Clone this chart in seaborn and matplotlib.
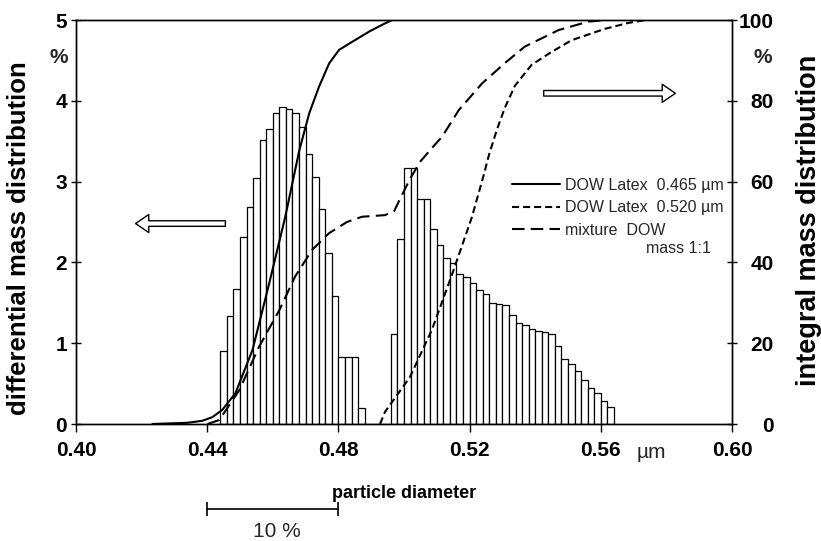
import matplotlib
matplotlib.use("Agg")
import matplotlib.pyplot as plt
import matplotlib.transforms as mtransforms
from matplotlib.lines import Line2D
import pandas as pd
import seaborn as sns

# ---------------- data ----------------
bin_width = 0.002
bin_centers = [0.445, 0.447, 0.449, 0.451, 0.453, 0.455, 0.457, 0.459, 0.461, 0.463,
               0.465, 0.467, 0.469, 0.471, 0.473, 0.475, 0.477, 0.479, 0.481, 0.483,
               0.485, 0.487, 0.489, 0.491, 0.493, 0.495, 0.497, 0.499, 0.501, 0.503,
               0.505, 0.507, 0.509, 0.511, 0.513, 0.515, 0.517, 0.519, 0.521, 0.523,
               0.525, 0.527, 0.529, 0.531, 0.533, 0.535, 0.537, 0.539, 0.541, 0.543,
               0.545, 0.547, 0.549, 0.551, 0.553, 0.555, 0.557, 0.559, 0.561, 0.563]
diff_mass = [0.90, 1.34, 1.67, 2.32, 2.69, 3.04, 3.52, 3.65, 3.85, 3.92,
             3.90, 3.85, 3.68, 3.34, 3.06, 2.66, 2.12, 1.58, 0.83, 0.83,
             0.83, 0.20, 0.00, 0.00, 0.00, 0.00, 1.12, 2.29, 3.17, 3.17,
             2.78, 2.78, 2.41, 2.21, 2.05, 1.99, 1.86, 1.82, 1.74, 1.66,
             1.61, 1.50, 1.49, 1.47, 1.35, 1.25, 1.22, 1.18, 1.15, 1.14,
             1.11, 0.96, 0.80, 0.74, 0.65, 0.55, 0.45, 0.38, 0.29, 0.21]

d465_x = [0.4233, 0.4340, 0.4385, 0.4416, 0.4446, 0.4486, 0.4538, 0.4589, 0.4638,
          0.4681, 0.4711, 0.4741, 0.4772, 0.4802, 0.4842, 0.4893, 0.4933, 0.4964]
d465_y = [0.0, 0.3, 0.8, 1.7, 3.5, 7.6, 18.3, 34.8, 51.3,
          67.8, 76.9, 83.5, 89.3, 92.6, 94.6, 97.1, 98.8, 100.0]

d520_x = [0.4927, 0.4942, 0.5018, 0.5085, 0.5146, 0.5207, 0.5243, 0.5259, 0.5283,
          0.5307, 0.5338, 0.5389, 0.5444, 0.5511, 0.5612, 0.5685, 0.5739]
d520_y = [0.0, 3.0, 11.6, 23.3, 36.9, 51.2, 61.6, 66.6, 72.8,
          78.2, 83.7, 88.9, 91.8, 95.0, 97.8, 99.3, 100.0]

mix_x = [0.4401, 0.4437, 0.4498, 0.4558, 0.4620, 0.4668, 0.4720, 0.4771, 0.4826,
         0.4872, 0.4942, 0.4970, 0.4994, 0.5018, 0.5049, 0.5085, 0.5116, 0.5167,
         0.5238, 0.5307, 0.5368, 0.5471, 0.5562, 0.5617]
mix_y = [0.0, 1.0, 8.4, 19.1, 28.2, 36.5, 43.1, 47.2, 50.0,
         51.3, 51.7, 52.7, 56.7, 60.6, 64.9, 68.3, 71.1, 77.7,
         84.3, 89.3, 93.4, 97.5, 99.6, 100.0]

x_ticks = [0.40, 0.44, 0.48, 0.52, 0.56, 0.60]
x_tick_labels = ["0.40", "0.44", "0.48", "0.52", "0.56", "0.60"]
left_ticks = [0, 1, 2, 3, 4, 5]
right_ticks = [0, 20, 40, 60, 80, 100]
legend_labels = ["DOW Latex  0.465 \u00b5m", "DOW Latex  0.520 \u00b5m", "mixture  DOW"]
legend_note = "mass 1:1"
scale_bar = [0.44, 0.48]
scale_label = "10 %"

# ---------------- style ----------------
sns.set_theme(style="ticks")
plt.rcParams["font.family"] = ["Liberation Sans", "DejaVu Sans"]
plt.rcParams["axes.linewidth"] = 1.0

SHORT = (0, (3.4, 1.9))
LONG = (0, (6.0, 3.0))

fig = plt.figure(figsize=(8.21, 5.41), dpi=100)
ax = fig.add_axes([76 / 821, 117 / 541, 656 / 821, 404 / 541])

edges = [c - bin_width / 2 for c in bin_centers] + [bin_centers[-1] + bin_width / 2]
hist_df = pd.DataFrame({"diameter": bin_centers, "mass": diff_mass})
sns.histplot(data=hist_df, x="diameter", weights="mass", bins=edges, stat="count",
             element="bars", fill=True, color="white", edgecolor="black",
             linewidth=0.9, alpha=1, ax=ax)

ax.set_xlim(0.40, 0.60)
ax.set_ylim(0, 5)
ax.set_xticks(x_ticks)
ax.set_xticklabels(x_tick_labels, fontweight="bold")
ax.set_yticks(left_ticks)
ax.set_yticklabels([str(v) for v in left_ticks], fontweight="bold")
ax.tick_params(axis="x", direction="out", length=6, width=1, pad=6.5, labelsize=15, colors="black")
ax.tick_params(axis="y", direction="inout", length=7, width=1, pad=3, labelsize=15, colors="black")

ax.set_xlabel("particle diameter", fontsize=13, fontweight="bold", color="black")
ax.xaxis.set_label_coords(0.5, -0.150)
ax.set_ylabel("differential mass distribution", fontsize=18.5, fontweight="bold", color="black")
ax.yaxis.set_label_coords(-0.068, 0.46)

# ---------------- integral curves ----------------
ax2 = ax.twinx()
sns.lineplot(x=d465_x, y=d465_y, ax=ax2, color="black", linewidth=1.5, linestyle="-")
sns.lineplot(x=d520_x, y=d520_y, ax=ax2, color="black", linewidth=1.5, linestyle=SHORT)
sns.lineplot(x=mix_x, y=mix_y, ax=ax2, color="black", linewidth=1.5, linestyle=LONG)
ax2.set_ylim(0, 100)
ax2.set_xlim(0.40, 0.60)
ax2.set_yticks(right_ticks)
ax2.set_yticklabels([str(v) for v in right_ticks], fontweight="bold", ha="right")
ax2.tick_params(axis="y", direction="inout", length=7, width=1, pad=26.6, labelsize=15, colors="black")
ax2.set_ylabel("integral mass distribution", fontsize=19.5, fontweight="bold", color="black")
ax2.yaxis.set_label_coords(1.098, 0.505)
for sp in ax2.spines.values():
    sp.set_linewidth(1.0)
    sp.set_color("black")
for sp in ax.spines.values():
    sp.set_color("black")

# percent signs under top tick labels
ax.text(-0.012, 0.908, "%", transform=ax.transAxes, ha="right", va="center",
        fontsize=15, fontweight="bold")
ax.text(1.0610, 0.908, "%", transform=ax.transAxes, ha="right", va="center",
        fontsize=15, fontweight="bold")

# unit on x axis
bx = mtransforms.blended_transform_factory(ax.transData, ax.transAxes)
ax.text(0.5755, -0.0842, "\u00b5m", transform=bx, ha="center", va="baseline", fontsize=15)

# legend
handles = [Line2D([], [], color="black", lw=1.5, linestyle="-"),
           Line2D([], [], color="black", lw=1.5, linestyle=SHORT),
           Line2D([], [], color="black", lw=1.5, linestyle=LONG)]
ax2.legend(handles, legend_labels, loc="upper left", bbox_to_anchor=(0.6646, 0.610),
           frameon=False, fontsize=11.5, handlelength=3.0, handletextpad=0.33,
           labelspacing=0.48, borderpad=0, borderaxespad=0)
ax2.text(0.5739, 0.4356, legend_note, transform=bx, ha="left", va="center", fontsize=11.5)

# hollow arrows
arrow_style = "simple,head_length=0.95,head_width=1.3,tail_width=0.4"
ax.annotate("", xy=(0.41816, 2.481), xytext=(0.44554, 2.481),
            arrowprops=dict(arrowstyle=arrow_style, fc="white", ec="black", lw=1,
                            shrinkA=0, shrinkB=0, mutation_scale=10))
ax.annotate("", xy=(0.58275, 4.093), xytext=(0.54259, 4.093),
            arrowprops=dict(arrowstyle=arrow_style, fc="white", ec="black", lw=1,
                            shrinkA=0, shrinkB=0, mutation_scale=10))

# 10 % scale bar
ax.plot(scale_bar, [-0.2104, -0.2104], transform=bx, color="black", lw=1.2,
        marker="|", markersize=10, markeredgewidth=1.2, clip_on=False)
ax.text(0.4611, -0.2649, scale_label, transform=bx, ha="center", va="center", fontsize=15)

fig.savefig("out.png", dpi=100)
